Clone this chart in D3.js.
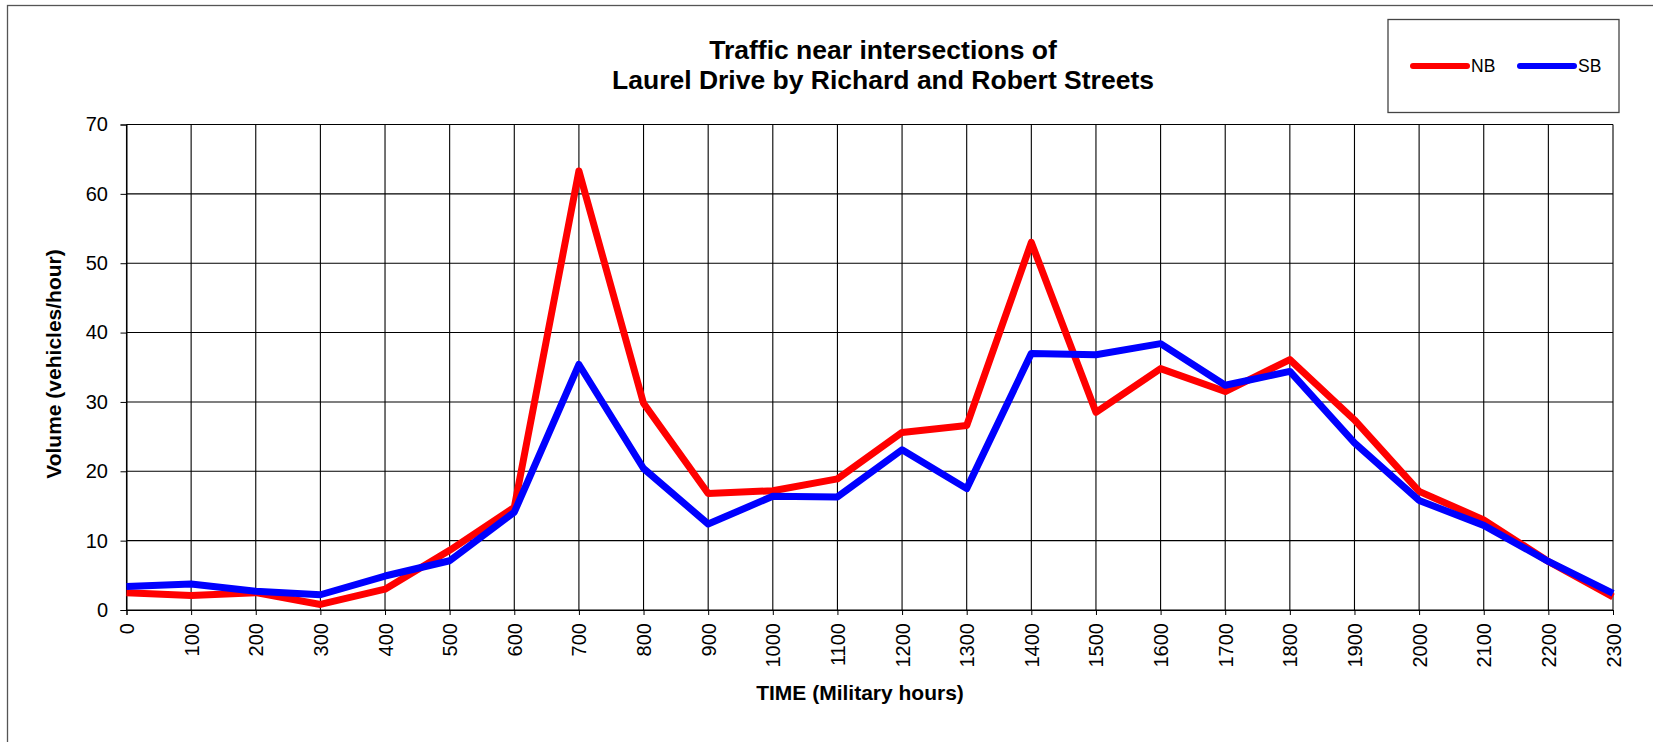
<!DOCTYPE html>
<html>
<head>
<meta charset="utf-8">
<script src="https://cdn.jsdelivr.net/npm/d3@7"></script>
<style>
  body { margin: 0; background: #fff; }
  svg text { font-family: "Liberation Sans", Arial, sans-serif; fill: #000; }
</style>
</head>
<body>
<script>
// chart data
var hours = [0, 100, 200, 300, 400, 500, 600, 700, 800, 900, 1000, 1100,
             1200, 1300, 1400, 1500, 1600, 1700, 1800, 1900, 2000, 2100, 2200, 2300]
var nbVolume = [2.5, 2.1, 2.5, 0.8, 3.0, 8.6, 14.8, 63.3, 29.8, 16.8, 17.2, 18.9,
                25.6, 26.6, 53.0, 28.5, 34.8, 31.5, 36.1, 27.4, 17.1, 13.0, 7.0, 1.9]
var sbVolume = [3.4, 3.75, 2.7, 2.2, 4.9, 7.1, 14.1, 35.4, 20.4, 12.4, 16.4, 16.3,
                23.1, 17.5, 37.0, 36.8, 38.4, 32.4, 34.4, 24.1, 15.8, 12.2, 7.0, 2.4]
var yTicks = [0, 10, 20, 30, 40, 50, 60, 70]
var seriesNames = ["NB", "SB"]
var titleLines = ["Traffic near intersections of", "Laurel Drive by Richard and Robert Streets"]

var width = 1653, height = 742
var plot = {left: 126.5, right: 1613, top: 124.5, bottom: 610}

var svg = d3.select("body").append("svg")
    .attr("width", width)
    .attr("height", height)

// outer chart frame (right and bottom edges fall outside the picture)
svg.append("rect")
    .attr("x", 7.5).attr("y", 5.5)
    .attr("width", 1700).attr("height", 800)
    .attr("fill", "none")
    .attr("stroke", "#555")
    .attr("stroke-width", 1.3)

var xScale = d3.scaleLinear().domain([0, 2300]).range([plot.left, plot.right])
var yScale = d3.scaleLinear().domain([0, 70]).range([plot.bottom, plot.top])

// grid
var grid = svg.append("g").attr("class", "grid")
grid.selectAll("line.h")
    .data(yTicks)
    .enter().append("line")
    .attr("class", "h")
    .attr("x1", plot.left).attr("x2", plot.right)
    .attr("y1", function(d) { return yScale(d) })
    .attr("y2", function(d) { return yScale(d) })
    .attr("stroke", "#000")
    .attr("stroke-width", 1.1)
grid.selectAll("line.v")
    .data(hours)
    .enter().append("line")
    .attr("class", "v")
    .attr("y1", plot.top).attr("y2", plot.bottom)
    .attr("x1", function(d) { return xScale(d) })
    .attr("x2", function(d) { return xScale(d) })
    .attr("stroke", "#000")
    .attr("stroke-width", 1.1)

// axes
var yAxis = svg.append("g")
    .attr("transform", "translate(" + plot.left + ",0)")
    .call(d3.axisLeft(yScale).tickValues(yTicks).tickSize(6).tickPadding(12.5).tickFormat(d3.format("d")))
yAxis.select(".domain").attr("stroke", "#000")
yAxis.selectAll("text").style("font-size", "20px")

var xAxis = svg.append("g")
    .attr("transform", "translate(0," + plot.bottom + ")")
    .call(d3.axisBottom(xScale).tickValues(hours).tickSize(5).tickFormat(d3.format("d")))
xAxis.select(".domain").attr("stroke", "#000")
xAxis.selectAll("text")
    .style("font-size", "20px")
    .attr("text-anchor", "end")
    .attr("transform", "rotate(-90)")
    .attr("x", -13)
    .attr("y", 0)
    .attr("dy", "0.35em")

// lines
var line = d3.line()
    .x(function(d, i) { return xScale(hours[i]) })
    .y(function(d) { return yScale(d) })

var colors = ["#ff0000", "#0000ff"]
var allSeries = [nbVolume, sbVolume]
allSeries.forEach(function(values, k) {
  svg.append("path")
      .datum(values)
      .attr("d", line)
      .attr("fill", "none")
      .attr("stroke", colors[k])
      .attr("stroke-width", 7)
      .attr("stroke-linejoin", "round")
      .attr("stroke-linecap", "butt")
})

// title
svg.append("g").selectAll("text")
    .data(titleLines)
    .enter().append("text")
    .attr("x", 883)
    .attr("y", function(d, i) { return 58.5 + i * 30 })
    .attr("text-anchor", "middle")
    .style("font-size", "26.5px")
    .style("font-weight", "bold")
    .text(function(d) { return d })

// axis titles
svg.append("text")
    .attr("transform", "translate(61,364) rotate(-90)")
    .attr("text-anchor", "middle")
    .style("font-size", "21px")
    .style("font-weight", "bold")
    .text("Volume (vehicles/hour)")

svg.append("text")
    .attr("x", 860)
    .attr("y", 700)
    .attr("text-anchor", "middle")
    .style("font-size", "21px")
    .style("font-weight", "bold")
    .text("TIME (Military hours)")

// legend
var legend = svg.append("g")
legend.append("rect")
    .attr("x", 1388).attr("y", 19.5)
    .attr("width", 231).attr("height", 93)
    .attr("fill", "#fff")
    .attr("stroke", "#444")
    .attr("stroke-width", 1.3)

var legendX = [1413, 1520]
seriesNames.forEach(function(name, k) {
  legend.append("line")
      .attr("x1", legendX[k]).attr("x2", legendX[k] + 54)
      .attr("y1", 66).attr("y2", 66)
      .attr("stroke", colors[k])
      .attr("stroke-width", 6)
      .attr("stroke-linecap", "round")
  legend.append("text")
      .attr("x", legendX[k] + 58)
      .attr("y", 72)
      .style("font-size", "17.5px")
      .text(name)
})
</script>
</body>
</html>
